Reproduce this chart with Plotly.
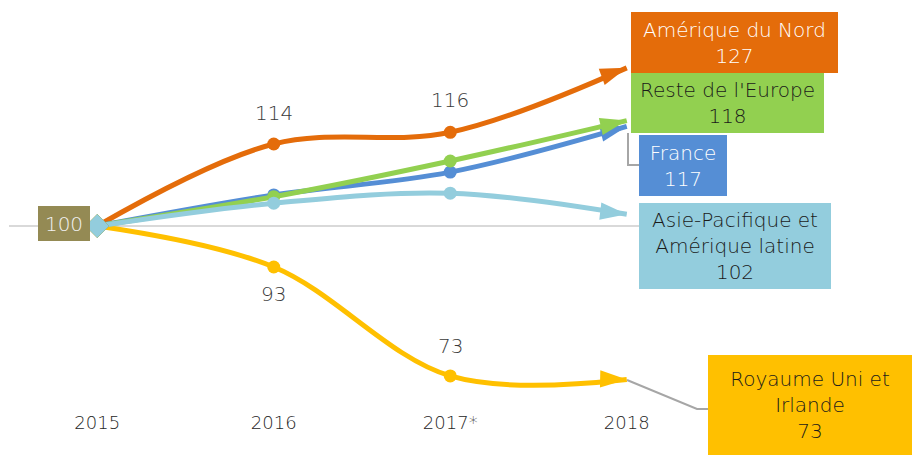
import plotly.graph_objects as go

# ---------------- data ----------------
years = ["2015", "2016", "2017*", "2018"]
amerique_nord = [100, 114, 116, 127]
reste_europe = [100, 105.0, 111.1, 118]
france = [100, 105.3, 109.2, 117]
asie_pacifique = [100, 103.9, 105.6, 102]
royaume_uni = [100, 93, 74.4, 73.8]

amerique_labels = ["", "114", "116", ""]
royaume_labels = ["", "93", "73", ""]

box_names = ["Amérique du Nord", "Reste de l'Europe", "France",
             "Asie-Pacifique et<br>Amérique latine", "Royaume Uni et<br>Irlande"]
box_values = ["127", "118", "117", "102", "73"]
start_value = "100"

# ---------------- style ----------------
C_ORANGE = "#E46C0A"
C_GREEN = "#92D050"
C_BLUE = "#558ED5"
C_LBLUE = "#93CDDD"
C_YELLOW = "#FFC000"
C_OLIVE = "#948A54"
FONT = "DejaVu Sans"

W, H = 912, 455
L, R, T, B = 9, 197, 0, 50


def px(x):
    return (x - L) / (W - L - R)


def py(y):
    return (H - B - y) / (H - T - B)


fig = go.Figure()

series = [
    (royaume_uni, C_YELLOW),
    (amerique_nord, C_ORANGE),
    (france, C_BLUE),
    (reste_europe, C_GREEN),
    (asie_pacifique, C_LBLUE),
]
for vals, col in series:
    fig.add_trace(go.Scatter(
        x=years, y=vals, mode="lines+markers",
        line=dict(color=col, width=5, shape="spline", smoothing=1),
        marker=dict(color=col, opacity=1,
                    symbol=["diamond", "circle", "circle", "arrow"],
                    size=[0, 13, 13, 28], angleref="previous",
                    line=dict(width=0)),
        showlegend=False, hoverinfo="skip",
    ))
# start-of-line diamonds
for vals, col in series:
    fig.add_trace(go.Scatter(
        x=years[:1], y=vals[:1], mode="markers",
        marker=dict(color=col, symbol="diamond", size=18, line=dict(width=0)),
        showlegend=False, hoverinfo="skip",
    ))

annotations = []
# data labels (pixel offsets above/below the point)
label_sets = [
    (amerique_nord, amerique_labels, [0, 31, 32, 0]),
    (royaume_uni, royaume_labels, [0, -27, 30, 0]),
]
for vals, labels, shifts in label_sets:
    for i, (v, t, s) in enumerate(zip(vals, labels, shifts)):
        if t:
            annotations.append(dict(x=i, y=v, xref="x", yref="y", text=t, showarrow=False,
                                    yshift=s,
                                    font=dict(family=FONT, size=20, color="#3A3A3A",
                                              weight=300)))

# boxes: (left, top, right, bottom, bg, text color, text)
boxes = [
    (631, 12, 838, 73, C_ORANGE, "#FFFFFF", box_names[0] + "<br>" + box_values[0]),
    (631, 73, 824, 133, C_GREEN, "#1A1A1A", box_names[1] + "<br>" + box_values[1]),
    (639, 135, 727, 196, C_BLUE, "#FFFFFF", box_names[2] + "<br>" + box_values[2]),
    (639, 203, 831, 289, C_LBLUE, "#1A1A1A", box_names[3] + "<br>" + box_values[3]),
    (708, 355, 912, 455, C_YELLOW, "#1A1A1A", box_names[4] + "<br>" + box_values[4]),
    (38, 206, 90, 241, C_OLIVE, "#F2F2F2", start_value),
]
for l, t, r, b, bg, fc, txt in boxes:
    annotations.append(dict(
        x=px(l), y=py(t), xref="paper", yref="paper", xanchor="left", yanchor="top",
        width=r - l, height=b - t, bgcolor=bg, borderpad=0, borderwidth=0,
        text=txt, showarrow=False, align="center", valign="middle",
        font=dict(family=FONT, size=20, color=fc, weight=300),
    ))

shapes = []
for pts in ([(628, 133), (628, 165), (639, 165)],
            [(627, 380), (697, 409), (708, 409)]):
    path = "M " + " L ".join(f"{px(x)},{py(y)}" for x, y in pts)
    shapes.append(dict(type="path", path=path, xref="paper", yref="paper",
                       line=dict(color="#A6A6A6", width=2), layer="below"))

fig.update_layout(
    width=W, height=H,
    margin=dict(l=L, r=R, t=T, b=B),
    paper_bgcolor="white", plot_bgcolor="white",
    annotations=annotations, shapes=shapes,
    font=dict(family=FONT),
    hovermode=False,
    xaxis=dict(type="category", range=[-0.5, 3.5], showgrid=False, showline=False,
               zeroline=False, ticks="", ticklabelstandoff=5,
               tickfont=dict(family=FONT, size=18, color="#262626", weight=300)),
    yaxis=dict(range=[100 - 179 / 5.857, 100 + 226 / 5.857], tickvals=[100],
               showticklabels=False, gridcolor="#D9D9D9", gridwidth=2,
               zeroline=False, showline=False),
)

fig.write_html("out.html", config={"displayModeBar": False, "staticPlot": True},
               post_script="document.body.style.margin='0px';document.body.style.overflow='hidden';")
